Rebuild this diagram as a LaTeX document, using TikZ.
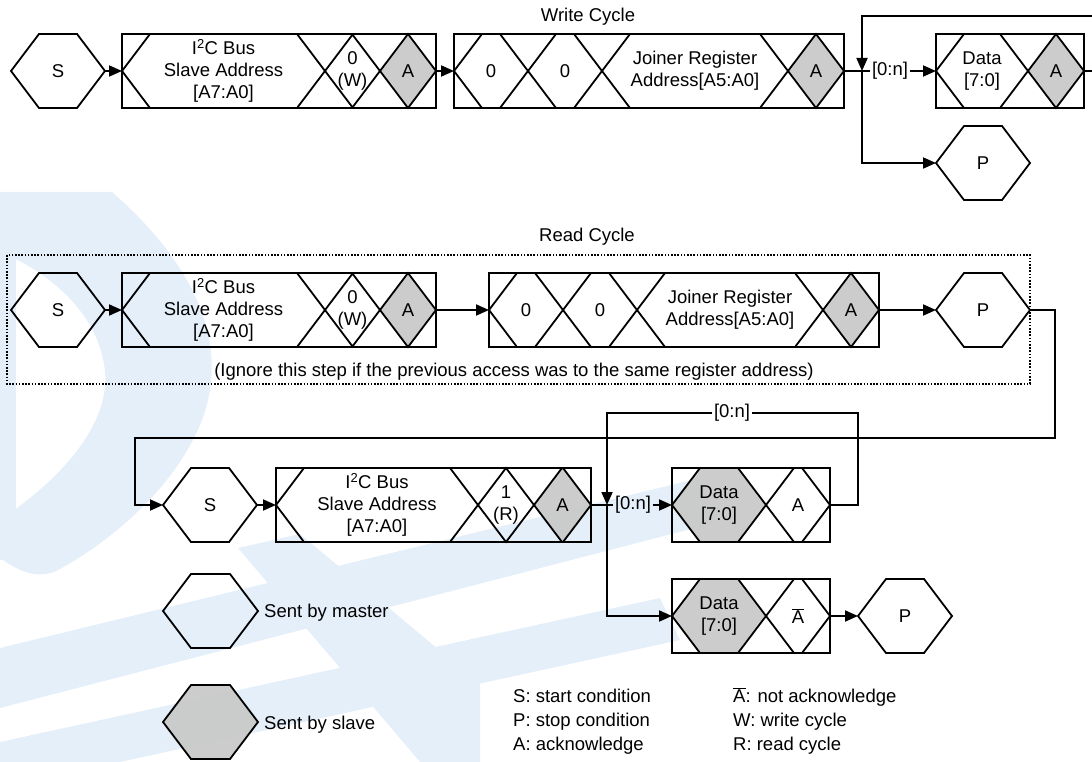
\documentclass[tikz,border=0pt]{standalone}
\usepackage{fontspec}
\setmainfont{Liberation Sans}
\usetikzlibrary{arrows.meta}
\definecolor{slavegray}{RGB}{200,200,200}
\definecolor{wmblue}{RGB}{229,239,249}
\newcommand{\slantw}{28}
\newcommand{\halfh}{37}
% one bus field: hexagon (or diamond) from x0 to x1 around the row centre yc
% #1 name, #2 x0, #3 x1, #4 yc, #5 path style, #6 text
\newcommand{\busfield}[6]{%
  \path[#5] (#2,#4) -- ({#2+\slantw},{#4-\halfh}) -- ({#3-\slantw},{#4-\halfh})
    -- (#3,#4) -- ({#3-\slantw},{#4+\halfh}) -- ({#2+\slantw},{#4+\halfh}) -- cycle;
  \coordinate (#1-W) at (#2,#4);
  \coordinate (#1-E) at (#3,#4);
  \node[fieldtext] (#1) at ({(#2+#3)/2},#4) {#6};
}
% frame round a group of fields
\newcommand{\busframe}[3]{%
  \draw[frameline] (#1,{#3-\halfh}) rectangle (#2,{#3+\halfh});
}
\tikzset{
  master/.style={draw=black, line width=1.8pt, line join=miter},
  slave/.style={master, fill=slavegray, fill opacity=0.92},
  frameline/.style={draw=black, line width=1.8pt},
  fieldtext/.style={align=center, inner sep=0pt, text=black,
    font=\fontsize{18.5}{22}\selectfont},
  plaintext/.style={inner sep=0pt, text=black, font=\fontsize{18.5}{22}\selectfont},
  looplabel/.style={inner sep=1.5pt, text=black, font=\fontsize{18.5}{22}\selectfont},
  conn/.style={draw=black, line width=1.8pt},
  arr/.style={conn, -{Triangle[length=13pt,width=11pt]}},
  dotbox/.style={draw=black, line width=1.5pt, dash pattern=on 1.6pt off 1.6pt},
  wm/.style={fill=wmblue},
}
\begin{document}
\begin{tikzpicture}[x=1pt,y=-1pt]
\useasboundingbox (0,0) rectangle (1092,762);

% watermark logo in the background
\fill[wm] (0,192) -- (112,192) .. controls (190,260) and (232,340) .. (202,420)
  .. controls (175,490) and (105,545) .. (58,570) .. controls (38,580) and (20,572) .. (0,558)
  -- (0,520) .. controls (60,480) and (110,425) .. (105,372)
  .. controls (100,315) and (50,272) .. (0,252) -- cycle;
\fill[wm] (0,250) rectangle (16,560);
\fill[wm] (0,648) -- (700,478) -- (718,522) -- (0,708) -- cycle;
\fill[wm] (0,742) -- (660,598) -- (680,640) -- (120,762) -- (0,762) -- cycle;
\fill[wm] (238,548) -- (300,534) -- (480,684) -- (480,762) -- (420,762) -- cycle;

% ---------------- write cycle ----------------
\node[plaintext] (wtitle) at (588,17) {Write Cycle};

\busfield{S1}{11}{105}{71}{master}{S}
\busfield{a1addr}{122}{325}{71}{master}{I\textsuperscript{2}C Bus\\Slave Address\\{[A7:A0]}}
\busfield{a1rw}{325}{380}{71}{master}{0\\(W)}
\busfield{a1ack}{380}{436}{71}{slave}{A}
\busframe{122}{436}{71}

\busfield{b1z1}{454}{528}{71}{master}{0}
\busfield{b1z2}{528}{602}{71}{master}{0}
\busfield{b1reg}{602}{788}{71}{master}{Joiner Register\\Address[A5:A0]}
\busfield{b1ack}{788}{844}{71}{slave}{A}
\busframe{454}{844}{71}

\busfield{c1data}{936}{1028}{71}{master}{Data\\{[7:0]}}
\busfield{c1ack}{1028}{1084}{71}{slave}{A}
\busframe{936}{1084}{71}

\busfield{P1}{936}{1030}{163}{master}{P}

\coordinate (J1) at (862,71);
\coordinate (wloop) at (1100,16);
\node[looplabel] (lbl1) at (890,71) {[0:n]};

\draw[arr] (S1-E) -- (a1addr-W);
\draw[arr] (a1ack-E) -- (b1z1-W);
\draw[conn] (b1ack-E) -- (J1);
\draw[conn] (J1) -- (lbl1);
\draw[arr] (lbl1) -- (c1data-W);
\draw[arr] (c1ack-E) -| (wloop) -| (J1);
\draw[arr] (J1) |- (P1-W);

% ---------------- read cycle ----------------
\node[plaintext] (rtitle) at (587,237) {Read Cycle};
\draw[dotbox] (7,255) rectangle (1030,384);
\node[plaintext] (rnote) at (514,372) {(Ignore this step if the previous access was to the same register address)};

\busfield{S2}{11}{105}{310}{master}{S}
\busfield{a2addr}{122}{325}{310}{master}{I\textsuperscript{2}C Bus\\Slave Address\\{[A7:A0]}}
\busfield{a2rw}{325}{380}{310}{master}{0\\(W)}
\busfield{a2ack}{380}{436}{310}{slave}{A}
\busframe{122}{436}{310}

\busfield{b2z1}{489}{563}{310}{master}{0}
\busfield{b2z2}{563}{637}{310}{master}{0}
\busfield{b2reg}{637}{823}{310}{master}{Joiner Register\\Address[A5:A0]}
\busfield{b2ack}{823}{879}{310}{slave}{A}
\busframe{489}{879}{310}

\busfield{P2}{936}{1030}{310}{master}{P}

\coordinate (rdA) at (1055,438);
\coordinate (rdB) at (135,438);

\draw[arr] (S2-E) -- (a2addr-W);
\draw[arr] (a2ack-E) -- (b2z1-W);
\draw[arr] (b2ack-E) -- (P2-W);

\busfield{S3}{163}{257}{505}{master}{S}
\busfield{a3addr}{276}{478}{505}{master}{I\textsuperscript{2}C Bus\\Slave Address\\{[A7:A0]}}
\busfield{a3rw}{478}{534}{505}{master}{1\\(R)}
\busfield{a3ack}{534}{591}{505}{slave}{A}
\busframe{276}{591}{505}

\busfield{d3data}{672}{766}{505}{slave}{Data\\{[7:0]}}
\busfield{d3ack}{766}{830}{505}{master}{A}
\busframe{672}{830}{505}

\busfield{d4data}{672}{766}{616}{slave}{Data\\{[7:0]}}
\busfield{d4nack}{766}{830}{616}{master}{$\overline{\mbox{A}}$}
\busframe{672}{830}{616}

\busfield{P4}{858}{952}{616}{master}{P}

\coordinate (J2) at (607,505);
\coordinate (rloop) at (858,413);
\node[looplabel] (lbl2) at (633,505) {[0:n]};
\node[looplabel] (lbl3) at (732,413) {[0:n]};

\draw[arr] (P2-E) -| (rdA) -- (rdB) |- (S3-W);
\draw[arr] (S3-E) -- (a3addr-W);
\draw[conn] (a3ack-E) -- (J2);
\draw[conn] (J2) -- (lbl2);
\draw[arr] (lbl2) -- (d3data-W);
\draw[conn] (d3ack-E) -| (rloop) -- (lbl3);
\draw[arr] (lbl3) -| (J2);
\draw[arr] (J2) |- (d4data-W);
\draw[arr] (d4nack-E) -- (P4-W);

% ---------------- legend ----------------
\busfield{keyM}{163}{258}{611}{master}{}
\node[plaintext, anchor=west] (keyMt) at (264,613) {Sent by master};
\busfield{keyS}{163}{258}{722}{slave}{}
\node[plaintext, anchor=west] (keySt) at (264,725) {Sent by slave};

\node[plaintext, anchor=base west] (abS) at (513,702) {S: start condition};
\node[plaintext, anchor=base west] (abP) at (513,726) {P: stop condition};
\node[plaintext, anchor=base west] (abA) at (513,750) {A: acknowledge};
\node[plaintext, anchor=base west] (abN) at (733,702) {$\overline{\mbox{A}}$: not acknowledge};
\node[plaintext, anchor=base west] (abW) at (733,726) {W: write cycle};
\node[plaintext, anchor=base west] (abR) at (733,750) {R: read cycle};
\end{tikzpicture}
\end{document}
